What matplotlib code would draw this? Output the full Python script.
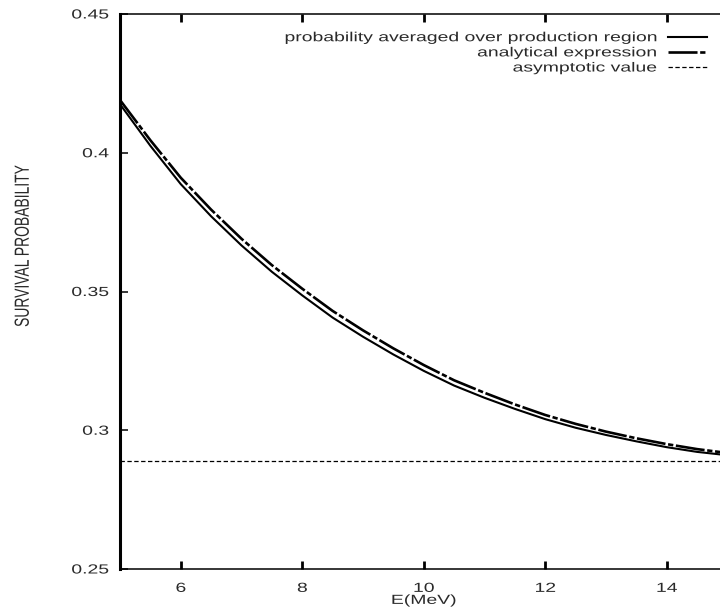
import matplotlib
matplotlib.use("Agg")
import matplotlib.pyplot as plt
from matplotlib.patheffects import AbstractPathEffect
from matplotlib.transforms import Affine2D

plt.rcParams['font.family'] = ['Liberation Sans', 'DejaVu Sans']

energy = [5.0, 5.5, 6.0, 6.5, 7.0, 7.5, 8.0, 8.5, 9.0, 9.5, 10.0,
          10.5, 11.0, 11.5, 12.0, 12.5, 13.0, 13.5, 14.0, 14.5, 15.0]
analytical = [0.4190, 0.4045, 0.3910, 0.3795, 0.3690, 0.3595, 0.3510, 0.3430,
              0.3360, 0.3295, 0.3235, 0.3180, 0.3135, 0.3093, 0.3055, 0.3023,
              0.2995, 0.2971, 0.2950, 0.2932, 0.2918]
averaged = [0.4175, 0.4025, 0.3887, 0.3771, 0.3666, 0.3571, 0.3486, 0.3406,
            0.3337, 0.3273, 0.3214, 0.3161, 0.3117, 0.3077, 0.3040, 0.3009,
            0.2983, 0.2960, 0.2939, 0.2922, 0.2910]
asymptotic = 0.289

labels = ['probability averaged over production region',
          'analytical expression', 'asymptotic value']
xticks = [6, 8, 10, 12, 14]
yticks = [0.25, 0.30, 0.35, 0.40, 0.45]
yticklabels = ['0.25', '0.3', '0.35', '0.4', '0.45']

SX = 1.47
TXT = '#2a2a2a'


class HStretch(AbstractPathEffect):
    """Widen text horizontally (on screen) about an anchor."""

    def __init__(self, sx, anchor='center', rotated=False):
        super().__init__()
        self.sx = sx
        self.anchor = anchor
        self.rotated = rotated

    def draw_path(self, renderer, gc, tpath, affine, rgbFace=None):
        v = tpath.vertices
        if len(v) == 0:
            return
        if self.rotated:
            lo, hi = v[:, 1].min(), v[:, 1].max()
            c = 0.5 * (lo + hi)
            t = Affine2D().translate(0, -c).scale(1, self.sx).translate(0, c)
        else:
            lo, hi = v[:, 0].min(), v[:, 0].max()
            c = {'left': lo, 'right': hi}.get(self.anchor, 0.5 * (lo + hi))
            t = Affine2D().translate(-c, 0).scale(self.sx, 1).translate(c, 0)
        renderer.draw_path(gc, tpath, t + affine, rgbFace)


fig = plt.figure(figsize=(7.2, 6.13), dpi=100)
ax = fig.add_axes([120 / 720, 44 / 613, 607.5 / 720, 555 / 613])

ax.plot(energy, averaged, color='black', lw=1.5, label=labels[0])
ax.plot(energy, analytical, color='black', lw=1.9,
        dashes=(11, 1.0, 2, 1.0), label=labels[1])
ax.axhline(asymptotic, color='black', lw=0.9, dashes=(3.5, 2), label=labels[2])

ax.set_xlim(5, 15)
ax.set_ylim(0.25, 0.45)
ax.set_xticks(xticks)
ax.set_xticklabels([str(t) for t in xticks])
ax.set_yticks(yticks)
ax.set_yticklabels(yticklabels)

ax.tick_params(direction='in', length=6, top=True, right=True,
               labelsize=9.5, labelcolor=TXT)
ax.tick_params(axis='x', width=2.0, pad=10)
ax.tick_params(axis='y', width=1.1, pad=8)
for side in ['top', 'bottom', 'right']:
    ax.spines[side].set_linewidth(1.1)
ax.spines['left'].set_linewidth(2.2)

for lab in ax.get_xticklabels():
    lab.set_path_effects([HStretch(SX, 'center')])
for lab in ax.get_yticklabels():
    lab.set_path_effects([HStretch(SX, 'right')])

ax.set_xlabel('E(MeV)', fontsize=9.5, color=TXT, labelpad=0)
ax.xaxis.label.set_path_effects([HStretch(SX, 'center')])

ax.set_ylabel('SURVIVAL PROBABILITY', fontsize=10, color=TXT)
ax.yaxis.label.set_va('center')
ax.yaxis.set_label_coords((22.5 - 120) / 607.5, (569 - 246) / 555)
ax.yaxis.label.set_path_effects([HStretch(SX, rotated=True)])

leg = ax.legend(loc='upper right', frameon=False, markerfirst=False,
                fontsize=9.5, handlelength=2.95, handletextpad=0.85,
                labelspacing=0.22, borderaxespad=0.0, borderpad=0.0,
                bbox_to_anchor=((707 - 120) / 607.5, (569 - 32) / 555))
for t in leg.get_texts():
    t.set_color(TXT)
    t.set_path_effects([HStretch(SX, 'right')])

fig.savefig('out.png', dpi=100)
